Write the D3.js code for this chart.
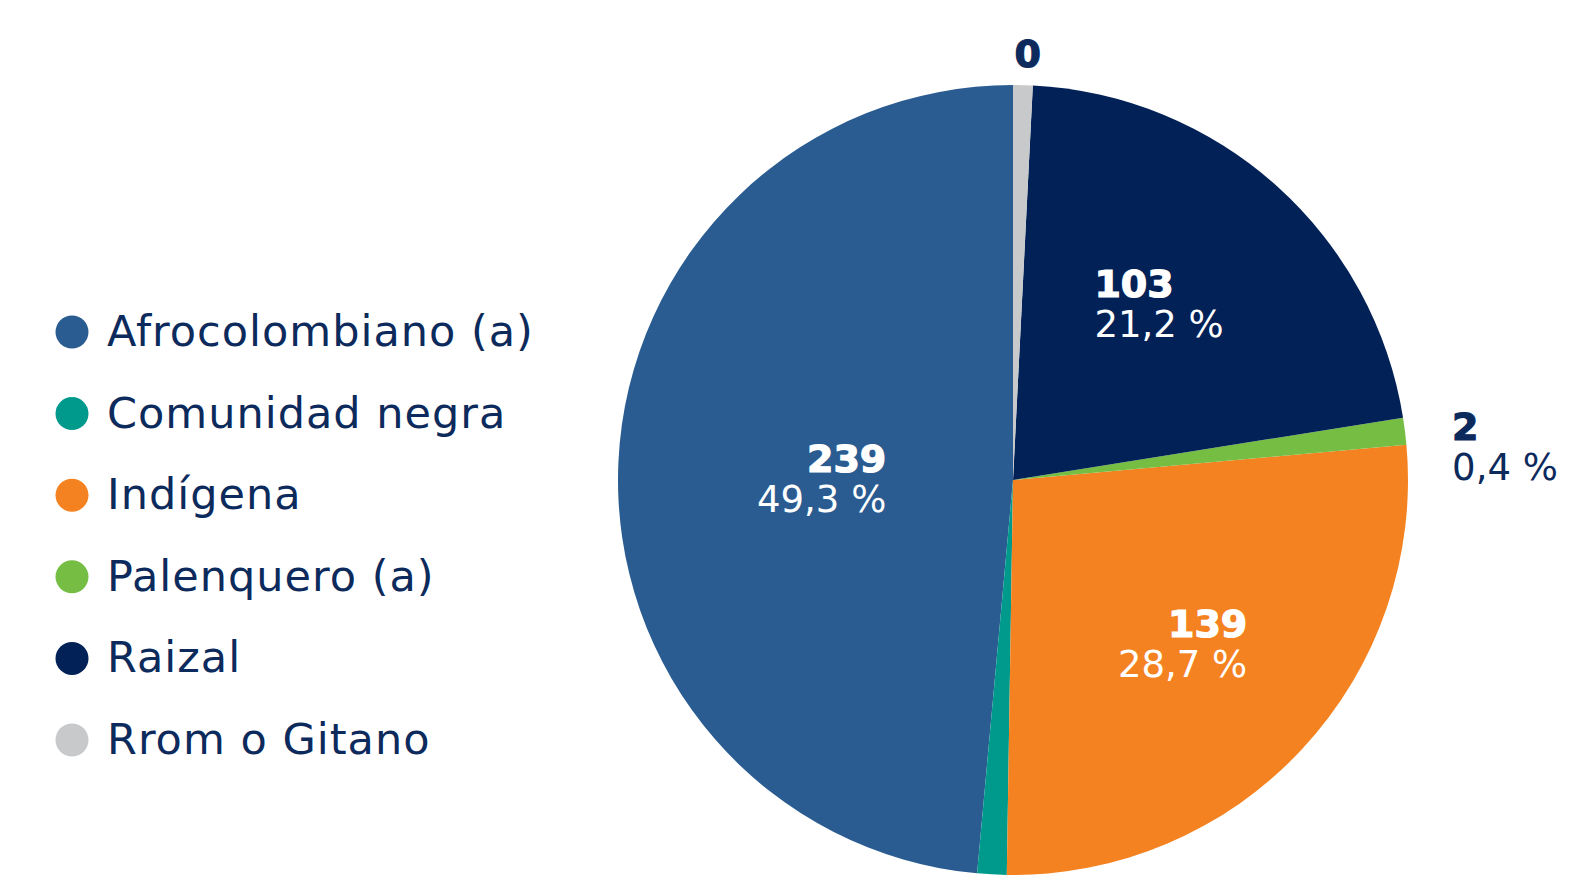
<!DOCTYPE html>
<html>
<head>
<meta charset="utf-8">
<script src="https://cdn.jsdelivr.net/npm/d3@7"></script>
<style>
  html, body { margin: 0; padding: 0; background: #fff; }
  svg { display: block; }
</style>
</head>
<body>
<div id="chart"></div>
<script>
// ---------------- data ----------------
var categories = ["Afrocolombiano (a)", "Comunidad negra", "Indígena", "Palenquero (a)", "Raizal", "Rrom o Gitano"];
var counts = [239, null, 139, 2, 103, 0];                       // printed counts (null = not printed)
var percentLabels = ["49,3 %", null, "28,7 %", "0,4 %", "21,2 %", null];
var sliceShares = [48.6, 1.2, 26.7, 1.1, 21.7, 0.8];            // share of the circle as drawn (%)
var colors = ["#2a5c92", "#009a8d", "#f58220", "#76bd43", "#022157", "#c8c9cb"];

// ---------------- layout ----------------
var width = 1594, height = 885;
var cx = 1013, cy = 480, radius = 395;
var textColor = "#0c2a5c";
var font = "'DejaVu Sans', sans-serif";

// label placement: radius factor along the slice mid angle, alignment, nudge
var labelLayout = {
    "Afrocolombiano (a)": { k: 0.49, align: "end", dx: 2, dy: 7, inside: true },
    "Indígena": { k: 0.593, align: "end", dx: -2, dy: 4, inside: true },
    "Palenquero (a)": { k: 1.25, align: "start", dx: 2, dy: 27, inside: false },
    "Raizal": { k: 0.55, align: "start", dx: 1, dy: -15, inside: true },
    "Rrom o Gitano": { k: 1.07, align: "middle", dx: 4, dy: -4, inside: false }
};

var rows = categories.map(function (c, i) {
    return { name: c, count: counts[i], pct: percentLabels[i], share: sliceShares[i], color: colors[i] };
});

var svg = d3.select("#chart")
    .append("svg")
    .attr("width", width)
    .attr("height", height);

// pie goes counter-clockwise from 12 o'clock in legend order
var pie = d3.pie()
    .sort(null)
    .value(function (d) { return d.share; })
    .startAngle(0)
    .endAngle(-2 * Math.PI);

var arc = d3.arc().innerRadius(0).outerRadius(radius);
var arcs = pie(rows);

var g = svg.append("g")
    .attr("transform", "translate(" + cx + "," + cy + ")");

g.selectAll("path.slice")
    .data(arcs)
    .join("path")
    .attr("class", "slice")
    .attr("d", arc)
    .attr("fill", function (d) { return d.data.color; });

// labels
var labels = g.selectAll("g.label")
    .data(arcs.filter(function (d) { return d.data.count !== null; }))
    .join("g")
    .attr("class", "label")
    .attr("transform", function (d) {
        var lay = labelLayout[d.data.name];
        var r = radius * lay.k;
        var p = d3.arc().innerRadius(r).outerRadius(r).centroid(d);
        return "translate(" + (p[0] + lay.dx) + "," + (p[1] + lay.dy) + ")";
    });

labels.each(function (d) {
    var lay = labelLayout[d.data.name];
    var sel = d3.select(this);
    var fill = lay.inside ? "#fff" : textColor;
    var t1 = sel.append("text")
        .text(d.data.count)
        .attr("font-family", font)
        .attr("font-weight", 900)
        .attr("font-size", 38)
        .attr("fill", fill)
        .attr("stroke", fill)
        .attr("stroke-width", 1.2)
        .attr("y", d.data.pct ? -6 : 14);
    var t2 = null;
    if (d.data.pct) {
        t2 = sel.append("text")
            .text(d.data.pct)
            .attr("font-family", font)
            .attr("font-size", 37)
            .attr("fill", fill)
            .attr("y", 34);
    }
    var w = Math.max(t1.node().getComputedTextLength(), t2 ? t2.node().getComputedTextLength() : 0);
    var x = lay.align === "end" ? w / 2 : (lay.align === "start" ? -w / 2 : 0);
    t1.attr("x", x).attr("text-anchor", lay.align);
    if (t2) t2.attr("x", x).attr("text-anchor", lay.align);
});

// legend
var legend = svg.append("g")
    .attr("class", "legend")
    .attr("transform", "translate(72,332)");

var item = legend.selectAll("g.item")
    .data(rows)
    .join("g")
    .attr("class", "item")
    .attr("transform", function (d, i) { return "translate(0," + (i * 81.6) + ")"; });

item.append("circle")
    .attr("r", 16.5)
    .attr("fill", function (d) { return d.color; });

item.append("text")
    .attr("x", 35)
    .attr("y", 14)
    .attr("font-family", font)
    .attr("font-size", 43)
    .attr("letter-spacing", 1)
    .attr("fill", textColor)
    .text(function (d) { return d.name; });
</script>
</body>
</html>
